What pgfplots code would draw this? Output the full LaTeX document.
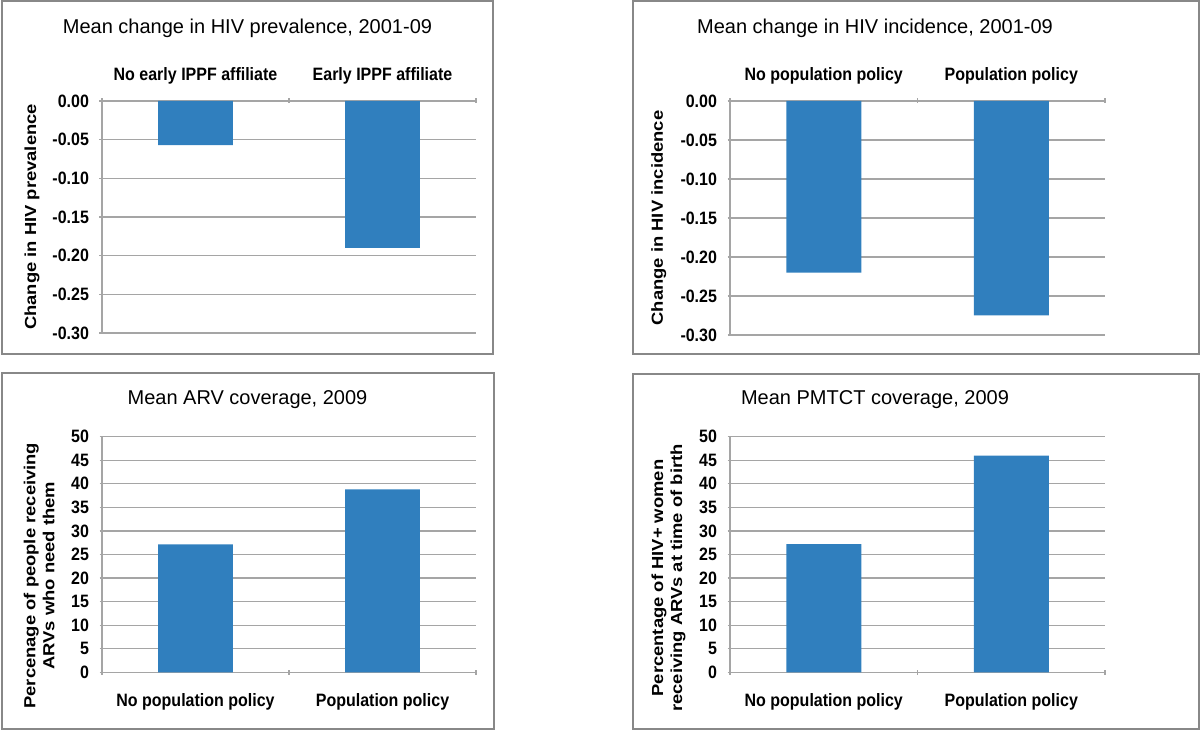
\documentclass[border=0pt]{standalone}
\usepackage{fontspec}
\setmainfont{Liberation Sans}
\usepackage{graphicx}
\usepackage{pgfplots}
\pgfplotsset{compat=1.18}
\definecolor{barblue}{RGB}{48,127,190}
\definecolor{gridgray}{RGB}{165,165,165}
\definecolor{framegray}{RGB}{136,136,136}
\newcommand{\lab}{\fontsize{16}{19}\selectfont\bfseries}
\newcommand{\ttl}{\fontsize{20}{24}\selectfont}
\newcommand{\vs}[1]{\scalebox{1}[1.12]{#1}}
\newcommand{\hs}[1]{\scalebox{1.15}[1]{#1}}
\pgfplotsset{
  common/.style={
    scale only axis, anchor=south west,
    xmin=-0.5, xmax=1.5,
    tick align=outside, major tick length=5pt,
    tick style={draw=gridgray, line width=1.2pt},
    ymajorgrids, grid style={draw=gridgray, line width=1.3pt},
    xtick={-0.5,0.5,1.5}, xticklabels={},
    extra x ticks={0,1},
    yticklabel style={font=\lab, xshift=-7pt},
    ylabel style={font=\lab, anchor=center, align=center},
    clip=false,
  },
  toppanel/.style={
    common,
    axis x line=top, axis y line=left,
    axis line style={-, draw=gridgray, line width=1.5pt},
    ymin=-0.3, ymax=0,
    ytick={-0.3,-0.25,-0.2,-0.15,-0.1,-0.05,0},
    yticklabels={\vs{-0.30},\vs{-0.25},\vs{-0.20},\vs{-0.15},\vs{-0.10},\vs{-0.05},\vs{0.00}},
    extra x tick style={major tick length=0pt, grid=none,
      tick label style={font=\lab, anchor=base, yshift=20.3pt}},
  },
  botpanel/.style={
    common,
    axis x line=bottom, axis y line=left,
    axis line style={-, draw=gridgray, line width=1.5pt},
    ymin=0, ymax=50,
    ytick={0,5,10,15,20,25,30,35,40,45,50},
    yticklabels={\vs{0},\vs{5},\vs{10},\vs{15},\vs{20},\vs{25},\vs{30},\vs{35},\vs{40},\vs{45},\vs{50}},
    extra x tick style={major tick length=0pt, grid=none,
      tick label style={font=\lab, anchor=base, yshift=-34.4pt}},
  },
}
\begin{document}
\begin{tikzpicture}
\path[use as bounding box] (0pt,0pt) rectangle (1200pt,731pt);
% frames
\draw[framegray, line width=2pt] (1.5pt,377pt) rectangle (493pt,729.5pt);
\draw[framegray, line width=2pt] (633pt,377pt) rectangle (1198.5pt,729.5pt);
\draw[framegray, line width=2pt] (1.5pt,2pt) rectangle (494pt,358pt);
\draw[framegray, line width=2pt] (633pt,2pt) rectangle (1198.5pt,357pt);
% titles
\node at (247.5pt,703pt) {\ttl Mean change in HIV prevalence, 2001-09};
\node at (875pt,703pt) {\ttl Mean change in HIV incidence, 2001-09};
\node at (247.5pt,331pt) {\ttl Mean ARV coverage, 2009};
\node at (875pt,331pt) {\ttl Mean PMTCT coverage, 2009};

\begin{axis}[toppanel, at={(102pt,398pt)}, width=374pt, height=232pt,
  extra x tick labels={\vs{No early IPPF affiliate}, \vs{Early IPPF affiliate}},
  ylabel={\hs{Change in HIV prevalence}},
  ylabel style={at={(axis description cs:-0.187,0.5)}}]
\addplot[ybar, bar width=0.4, fill=barblue, draw=none] coordinates {(0,-0.057) (1,-0.19)};
\end{axis}

\begin{axis}[toppanel, at={(730pt,396pt)}, width=375pt, height=234pt,
  extra x tick labels={\vs{No population policy}, \vs{Population policy}},
  ylabel={\hs{Change in HIV incidence}},
  ylabel style={at={(axis description cs:-0.19,0.5)}}]
\addplot[ybar, bar width=0.4, fill=barblue, draw=none] coordinates {(0,-0.22) (1,-0.275)};
\end{axis}

\begin{axis}[botpanel, at={(102pt,58.7pt)}, width=374pt, height=235.6pt,
  extra x tick labels={\vs{No population policy}, \vs{Population policy}},
  ylabel={\hs{\begin{tabular}{@{}c@{}}Percenage of people receiving\\ARVs who need them\end{tabular}}},
  ylabel style={at={(axis description cs:-0.163,0.41)}}]
\addplot[ybar, bar width=0.4, fill=barblue, draw=none] coordinates {(0,27.15) (1,38.8)};
\end{axis}

\begin{axis}[botpanel, at={(730pt,58.7pt)}, width=375pt, height=235.6pt,
  extra x tick labels={\vs{No population policy}, \vs{Population policy}},
  ylabel={\hs{\begin{tabular}{@{}c@{}}Percentage of HIV+ women\\receiving ARVs at time of birth\end{tabular}}},
  ylabel style={at={(axis description cs:-0.163,0.40)}}]
\addplot[ybar, bar width=0.4, fill=barblue, draw=none] coordinates {(0,27.2) (1,46.0)};
\end{axis}
\end{tikzpicture}
\end{document}
